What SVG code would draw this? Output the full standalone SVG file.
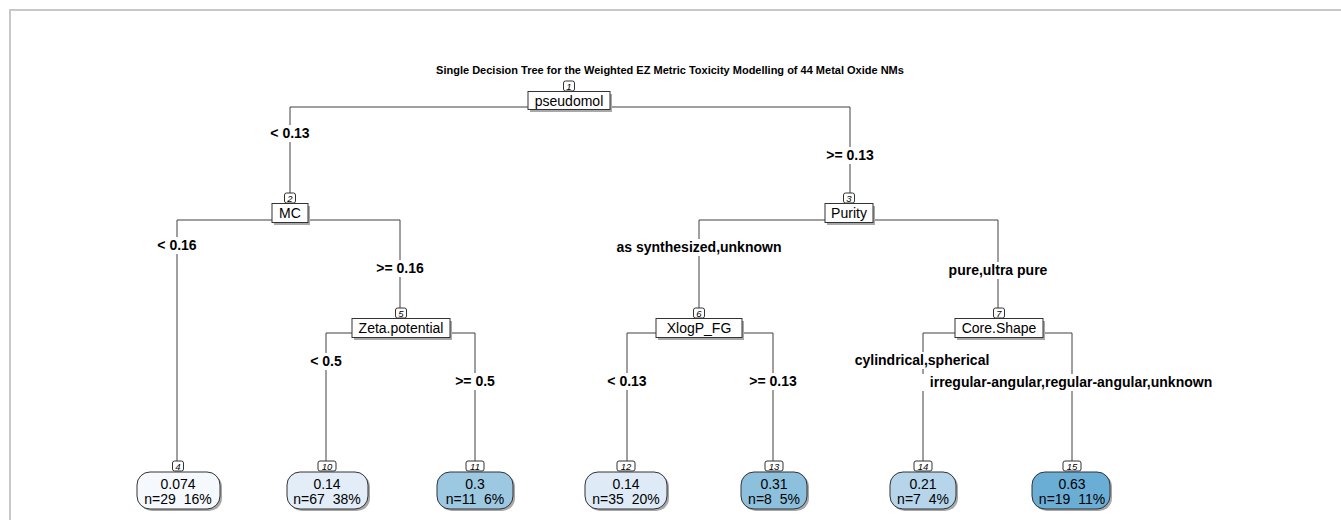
<svg xmlns="http://www.w3.org/2000/svg" width="1341" height="520" viewBox="0 0 1341 520">
<style>
.bg{fill:#ffffff}
.frame{fill:none;stroke:#c8c8c8;stroke-width:2}
.title{font-family:"Liberation Sans",Arial,sans-serif;font-size:11px;font-weight:bold;fill:#000;text-anchor:middle}
.edge{fill:none;stroke:#404040;stroke-width:1}
.blab{font-family:"Liberation Sans",Arial,sans-serif;font-size:14px;font-weight:bold;fill:#000;text-anchor:middle}
.labbg{fill:#ffffff}
.shadow{fill:#a8a8a8}
.nbox{fill:#ffffff;stroke:#333;stroke-width:1}
.nlab{font-family:"Liberation Sans",Arial,sans-serif;font-size:14px;fill:#000;text-anchor:middle}
.num{fill:#ffffff;stroke:#333;stroke-width:1}
.numt{font-family:"Liberation Sans",Arial,sans-serif;font-size:9.5px;font-style:italic;fill:#000;text-anchor:middle}
.leaf{stroke:#333;stroke-width:1}
.lt{font-family:"Liberation Sans",Arial,sans-serif;font-size:14px;fill:#000;text-anchor:middle;white-space:pre}
</style>
<rect class="bg" x="0" y="0" width="1341" height="520"/>
<path class="frame" d="M10,520 V10 H1341"/>
<text class="title" x="670" y="74">Single Decision Tree for the Weighted EZ Metric Toxicity Modelling of 44 Metal Oxide NMs</text>

<g id="connectors">
<path class="edge" d="M290,193 V107 H850 V193"/>
<path class="edge" d="M177,461 V220 H400 V308"/>
<path class="edge" d="M326,461 V333 H475 V461"/>
<path class="edge" d="M699,308 V220 H998 V308"/>
<path class="edge" d="M627,461 V333 H773 V461"/>
<path class="edge" d="M923,461 V333 H1072 V461"/>
<g id="edge-labels">
<rect class="labbg" x="266" y="125" width="48" height="17"/><text class="blab" x="290" y="138">&lt; 0.13</text>
<rect class="labbg" x="822" y="147" width="56" height="17"/><text class="blab" x="850" y="160">&gt;= 0.13</text>
<rect class="labbg" x="153" y="237" width="48" height="17"/><text class="blab" x="177" y="250">&lt; 0.16</text>
<rect class="labbg" x="372" y="260" width="56" height="17"/><text class="blab" x="400" y="273">&gt;= 0.16</text>
<rect class="labbg" x="306" y="353" width="40" height="17"/><text class="blab" x="326" y="366">&lt; 0.5</text>
<rect class="labbg" x="451" y="373" width="48" height="17"/><text class="blab" x="475" y="386">&gt;= 0.5</text>
<rect class="labbg" x="615" y="239" width="168" height="17"/><text class="blab" x="699" y="252">as synthesized,unknown</text>
<rect class="labbg" x="942" y="262" width="112" height="17"/><text class="blab" x="998" y="275">pure,ultra pure</text>
<rect class="labbg" x="603" y="373" width="48" height="17"/><text class="blab" x="627" y="386">&lt; 0.13</text>
<rect class="labbg" x="745" y="373" width="56" height="17"/><text class="blab" x="773" y="386">&gt;= 0.13</text>
<rect class="labbg" x="853" y="352" width="138" height="17"/><text class="blab" x="922" y="365">cylindrical,spherical</text>
<rect class="labbg" x="922" y="374" width="298" height="17"/><text class="blab" x="1071" y="387">irregular-angular,regular-angular,unknown</text>
</g>
</g>

<g id="node1">
<rect class="num" x="563.5" y="81" width="11" height="10" rx="2"/><text class="numt" x="569" y="89.5">1</text>
<rect class="shadow" x="530" y="94" width="82" height="18"/>
<rect class="nbox" x="528" y="91.5" width="82" height="18"/><text class="nlab" x="569" y="105.5">pseudomol</text>
</g>
<g id="node2">
<rect class="num" x="284.5" y="193" width="11" height="10" rx="2"/><text class="numt" x="290" y="201.5">2</text>
<rect class="shadow" x="274" y="206" width="36" height="19"/>
<rect class="nbox" x="272" y="203.5" width="36" height="19"/><text class="nlab" x="290" y="218">MC</text>
</g>
<g id="node3">
<rect class="num" x="843.5" y="193" width="11" height="10" rx="2"/><text class="numt" x="849" y="201.5">3</text>
<rect class="shadow" x="827" y="206" width="48" height="19"/>
<rect class="nbox" x="825" y="203.5" width="48" height="19"/><text class="nlab" x="849" y="218">Purity</text>
</g>
<g id="node5">
<rect class="num" x="395.5" y="308" width="11" height="10" rx="2"/><text class="numt" x="401" y="316.5">5</text>
<rect class="shadow" x="354" y="321" width="98" height="19"/>
<rect class="nbox" x="352" y="318.5" width="98" height="19"/><text class="nlab" x="401" y="333">Zeta.potential</text>
</g>
<g id="node6">
<rect class="num" x="693.5" y="308" width="11" height="10" rx="2"/><text class="numt" x="699" y="316.5">6</text>
<rect class="shadow" x="658" y="321" width="86" height="19"/>
<rect class="nbox" x="656" y="318.5" width="86" height="19"/><text class="nlab" x="699" y="333">XlogP_FG</text>
</g>
<g id="node7">
<rect class="num" x="993.5" y="308" width="11" height="10" rx="2"/><text class="numt" x="999" y="316.5">7</text>
<rect class="shadow" x="957" y="321" width="88" height="19"/>
<rect class="nbox" x="955" y="318.5" width="88" height="19"/><text class="nlab" x="999" y="333">Core.Shape</text>
</g>

<g id="leaf4">
<rect class="num" x="172.5" y="461" width="11" height="10" rx="2"/><text class="numt" x="178" y="469.5">4</text>
<rect class="shadow" x="139" y="474" width="83" height="37" rx="13"/>
<rect class="leaf" fill="#f5f9fd" x="137" y="472" width="83" height="37" rx="13"/>
<text class="lt" x="178" y="489">0.074</text><text class="lt" x="178" y="504">n=29  16%</text>
</g>
<g id="leaf10">
<rect class="num" x="318" y="461" width="18" height="10" rx="2"/><text class="numt" x="327" y="469.5">10</text>
<rect class="shadow" x="289" y="474" width="81" height="37" rx="13"/>
<rect class="leaf" fill="#e2edf8" x="287" y="472" width="81" height="37" rx="13"/>
<text class="lt" x="327" y="489">0.14</text><text class="lt" x="327" y="504">n=67  38%</text>
</g>
<g id="leaf11">
<rect class="num" x="466" y="461" width="18" height="10" rx="2"/><text class="numt" x="475" y="469.5">11</text>
<rect class="shadow" x="439" y="474" width="76" height="37" rx="13"/>
<rect class="leaf" fill="#9dc8e1" x="437" y="472" width="76" height="37" rx="13"/>
<text class="lt" x="475" y="489">0.3</text><text class="lt" x="475" y="504">n=11  6%</text>
</g>
<g id="leaf12">
<rect class="num" x="617" y="461" width="18" height="10" rx="2"/><text class="numt" x="626" y="469.5">12</text>
<rect class="shadow" x="587" y="474" width="82" height="37" rx="13"/>
<rect class="leaf" fill="#deebf7" x="585" y="472" width="82" height="37" rx="13"/>
<text class="lt" x="626" y="489">0.14</text><text class="lt" x="626" y="504">n=35  20%</text>
</g>
<g id="leaf13">
<rect class="num" x="765" y="461" width="18" height="10" rx="2"/><text class="numt" x="774" y="469.5">13</text>
<rect class="shadow" x="743" y="474" width="66" height="37" rx="13"/>
<rect class="leaf" fill="#8cc0dd" x="741" y="472" width="66" height="37" rx="13"/>
<text class="lt" x="774" y="489">0.31</text><text class="lt" x="774" y="504">n=8  5%</text>
</g>
<g id="leaf14">
<rect class="num" x="914" y="461" width="18" height="10" rx="2"/><text class="numt" x="923" y="469.5">14</text>
<rect class="shadow" x="892" y="474" width="66" height="37" rx="13"/>
<rect class="leaf" fill="#b6d4ea" x="890" y="472" width="66" height="37" rx="13"/>
<text class="lt" x="923" y="489">0.21</text><text class="lt" x="923" y="504">n=7  4%</text>
</g>
<g id="leaf15">
<rect class="num" x="1063" y="461" width="18" height="10" rx="2"/><text class="numt" x="1072" y="469.5">15</text>
<rect class="shadow" x="1034" y="474" width="78" height="37" rx="13"/>
<rect class="leaf" fill="#6aaed6" x="1032" y="472" width="78" height="37" rx="13"/>
<text class="lt" x="1072" y="489">0.63</text><text class="lt" x="1072" y="504">n=19  11%</text>
</g>
</svg>
